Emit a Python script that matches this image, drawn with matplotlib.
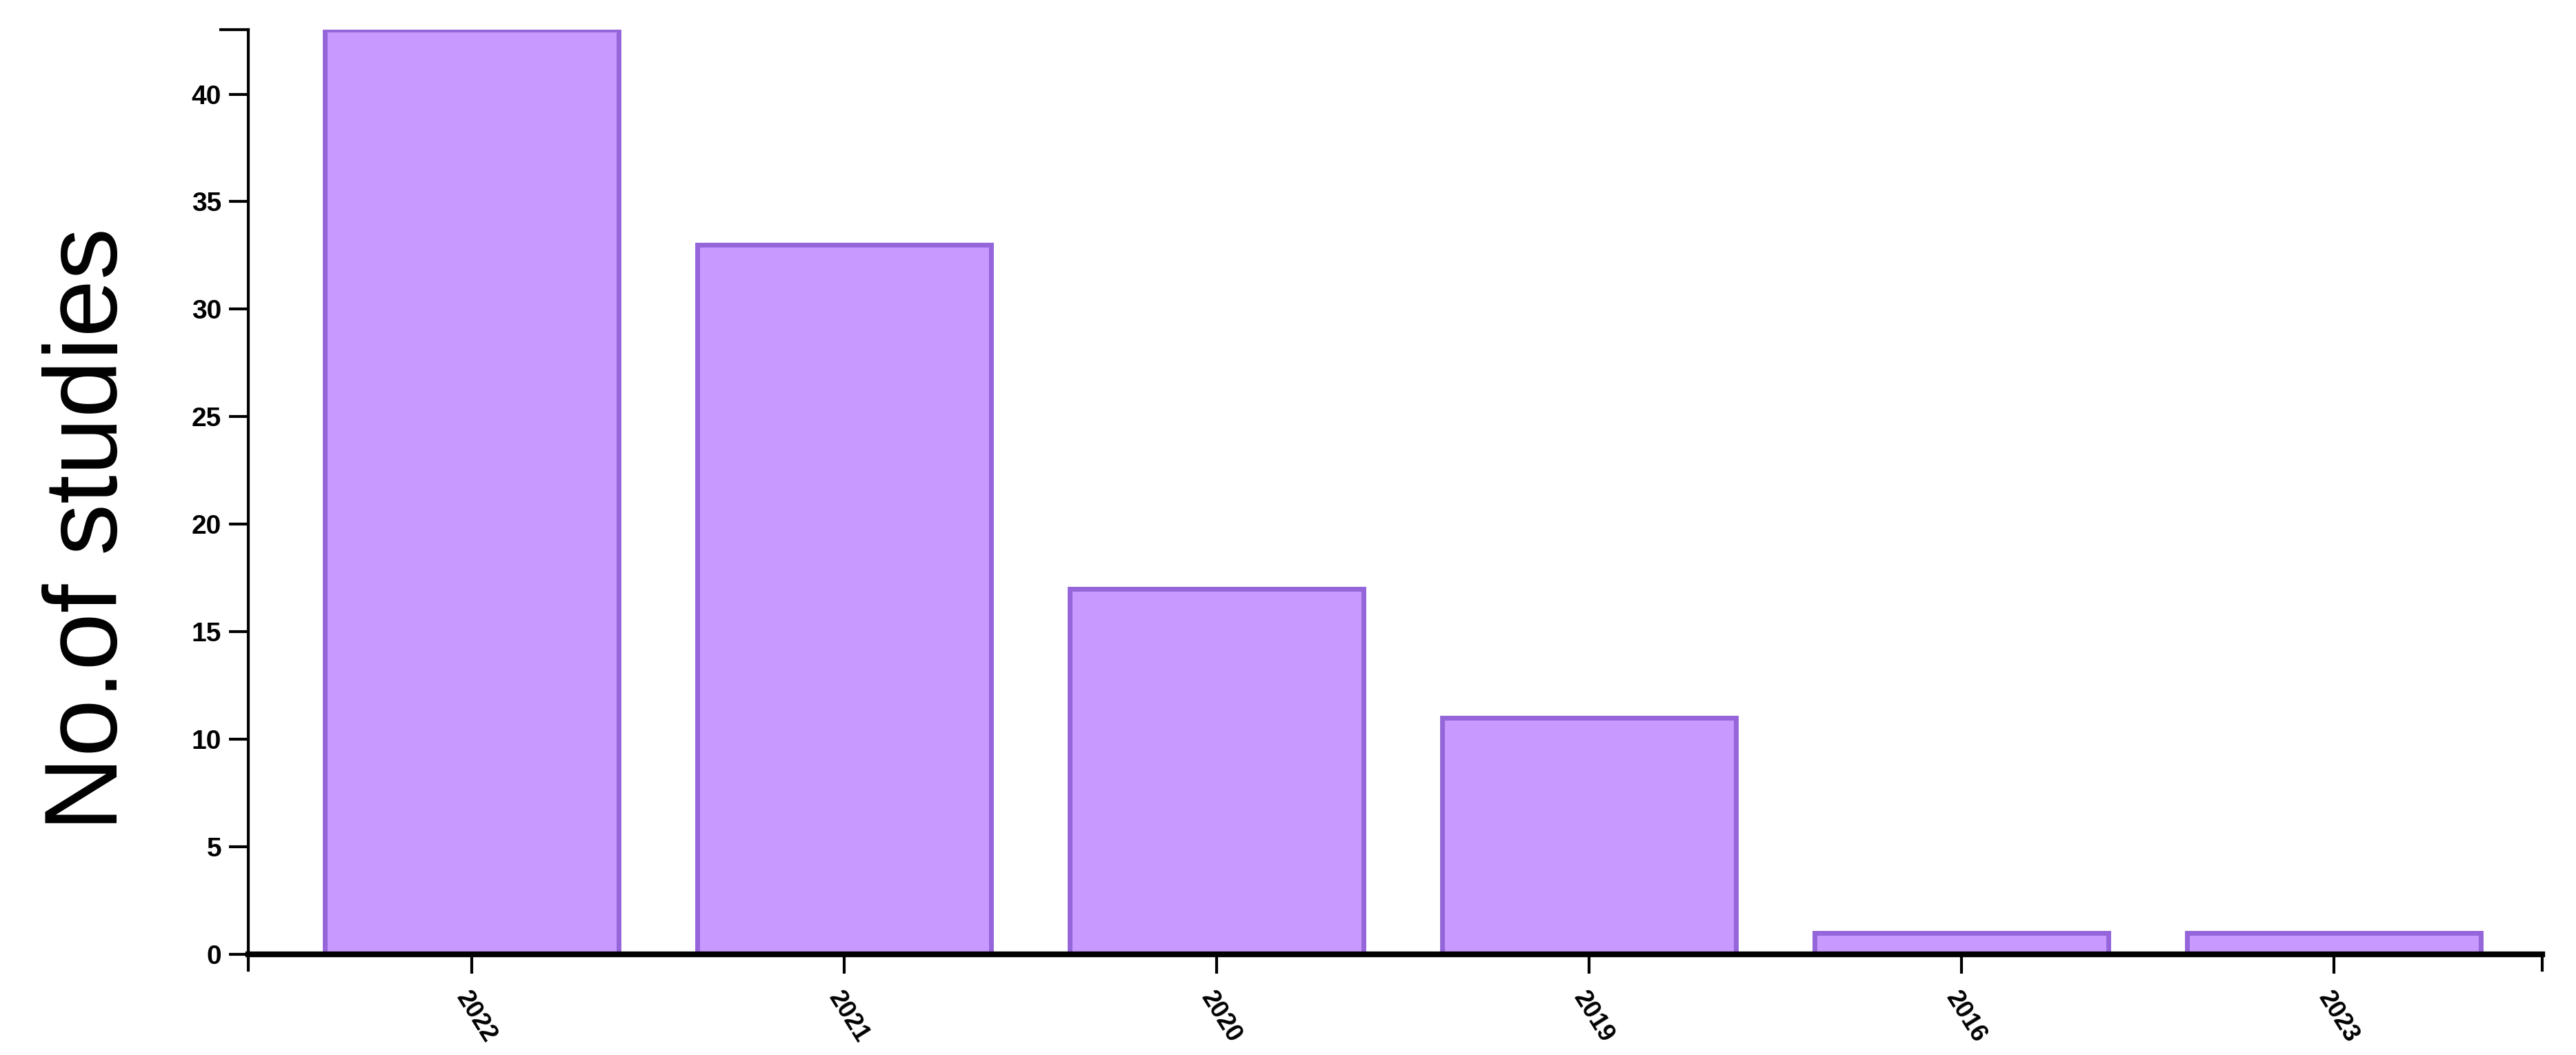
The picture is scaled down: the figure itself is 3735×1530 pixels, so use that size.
import matplotlib
matplotlib.use('Agg')
from matplotlib import pyplot as plt

years = ['2022', '2021', '2020', '2019', '2016', '2023']
studies = [43, 33, 17, 11, 1, 1]
y_ticks = [0, 5, 10, 15, 20, 25, 30, 35, 40]

plt.rcParams['font.family'] = ['Liberation Sans', 'DejaVu Sans']

fig = plt.figure(figsize=(37.35, 15.3), dpi=100)
ax = fig.add_axes([0.0964, 0.0954, 0.8906, 0.8765])

x = list(range(len(years)))
ax.bar(x, studies, width=0.79, color='#C899FF', edgecolor='#9565DA', linewidth=5)

ax.set_xlim(-0.6, 5.56)
ax.set_ylim(0, 43)
ax.set_xticks(x)
ax.set_xticklabels(years, rotation=-58, ha='left', va='top', rotation_mode='anchor',
                   fontsize=26, fontweight='bold')
ax.set_yticks(y_ticks)
ax.set_yticklabels([str(t) for t in y_ticks], fontsize=28, fontweight='bold')
ax.tick_params(axis='both', length=20, width=3, color='black', pad=8)
ax.tick_params(axis='x', pad=14)

for side in ['top', 'right']:
    ax.spines[side].set_visible(False)
ax.spines['left'].set_linewidth(3)
ax.spines['bottom'].set_linewidth(6)

# d3-style outer ticks at the ends of the axis lines
ax.plot([-0.012, 0], [1, 1], transform=ax.transAxes, color='black', lw=3, clip_on=False)
ax.plot([0, 0], [0, -0.017], transform=ax.transAxes, color='black', lw=3, clip_on=False)
ax.plot([1, 1], [0, -0.017], transform=ax.transAxes, color='black', lw=3, clip_on=False)

ax.set_ylabel('No.of studies', fontsize=108, ha='center', va='center')
ax.yaxis.set_label_coords(-0.069, 0.46)

plt.savefig('out.png', dpi=100)
